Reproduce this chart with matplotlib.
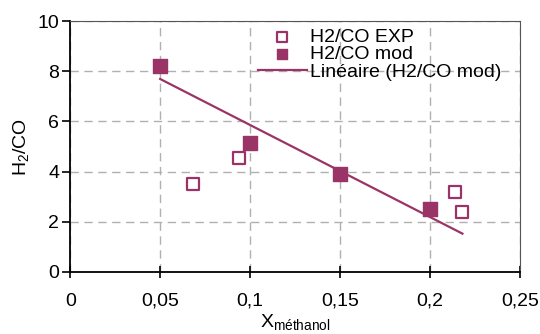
import numpy as np
import matplotlib
matplotlib.use("Agg")
import matplotlib.pyplot as plt
from matplotlib.ticker import FuncFormatter

plt.rcParams['font.family'] = ['Liberation Sans', 'DejaVu Sans']

# data
x_exp = [0.068, 0.094, 0.214, 0.218]
y_exp = [3.5, 4.55, 3.2, 2.4]
x_mod = [0.05, 0.10, 0.15, 0.20]
y_mod = [8.2, 5.15, 3.9, 2.5]

color = '#9b3466'
fs = 14

fig = plt.figure(figsize=(5.4, 3.34), dpi=100)
ax = fig.add_axes([0.13, 0.186, 0.833, 0.751])

# linear trend of the model points (Excel-style "Linéaire")
slope, inter = np.polyfit(x_mod, y_mod, 1)
xl = np.array([min(x_mod), max(x_exp)])
ax.plot(xl, slope * xl + inter, color=color, lw=1.6, label='Linéaire (H2/CO mod)', zorder=3)

ax.scatter(x_exp, y_exp, marker='s', s=70, facecolor='white', edgecolor=color,
           linewidth=1.6, label='H2/CO EXP', zorder=4)
ax.scatter(x_mod, y_mod, marker='s', s=90, facecolor=color, edgecolor=color,
           label='H2/CO mod', zorder=4)

ax.set_xlim(0, 0.25)
ax.set_ylim(0, 10)
ax.set_xticks([0, 0.05, 0.1, 0.15, 0.2, 0.25])
ax.set_yticks([0, 2, 4, 6, 8, 10])
ax.xaxis.set_major_formatter(FuncFormatter(lambda v, p: ('%g' % round(v, 2)).replace('.', ',')))
ax.grid(True, color='#b0b0b0', linestyle=(0, (6, 4)), linewidth=1)
ax.set_axisbelow(True)

ax.tick_params(axis='both', labelsize=fs, length=6, width=1.2, color='black', pad=2)
ax.tick_params(axis='x', direction='inout', length=8, pad=11)
ax.spines['left'].set_linewidth(1.3)
ax.spines['bottom'].set_linewidth(1.3)
ax.spines['top'].set_color('#555555')
ax.spines['right'].set_color('#555555')

ax.set_xlabel('X$_{\\mathregular{méthanol}}$', fontsize=fs, labelpad=2)
ax.set_ylabel('H$_{\\mathregular{2}}$/CO', fontsize=fs, labelpad=4)

h, l = ax.get_legend_handles_labels()
order = [1, 2, 0]
ax.legend([h[i] for i in order], [l[i] for i in order], loc='upper left',
          bbox_to_anchor=(258 / 540, 1 - 28 / 334), bbox_transform=fig.transFigure,
          frameon=False, fontsize=fs, handlelength=2.5, handletextpad=0.2,
          labelspacing=0.0, borderaxespad=0, borderpad=0, markerscale=0.8)

fig.savefig('out.png', dpi=100)
